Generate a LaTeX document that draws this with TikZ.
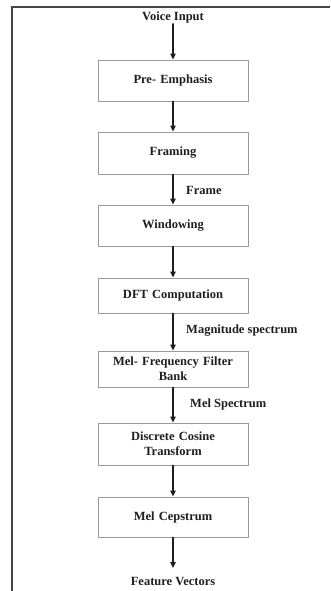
\documentclass[tikz,border=0pt]{standalone}
\usepackage{fontspec}
\setmainfont{Liberation Serif}
\usetikzlibrary{arrows.meta,positioning}
\definecolor{mfInk}{HTML}{1E1E1E}
\definecolor{mfFrame}{HTML}{454545}
\definecolor{mfEdge}{HTML}{9A9A9A}
\tikzset{
 mfcc/.style={font=\fontsize{12.5}{15}\selectfont\bfseries,text=mfInk,line cap=round},
 stage/.style={rectangle,draw=mfEdge,fill=white,line width=.9pt,minimum width=150pt,
   inner sep=2pt,align=center,text width=144pt},
 tag/.style={inner sep=1pt},
 flow/.style={draw=mfInk,line width=1.4pt,-{Triangle[length=6pt,width=5.5pt]}},
 frameline/.style={draw=mfFrame,line width=2.2pt,line cap=butt}
}

\begin{document}
\begin{tikzpicture}[mfcc,x=1pt,y=-1pt]
 \useasboundingbox (0,0) rectangle (330,591);
 \draw[frameline] (12,591)--(12,7)--(330,7);
 % input and output labels
 \node[tag] (vin) at (173,17) {Voice Input};
 \node[tag] (fvec) at (173,581) {Feature Vectors};
 % processing stages
 \node[stage,minimum height=41pt] (pre) at (173,80.5) {Pre- Emphasis};
 \node[stage,minimum height=42pt] (frm) at (173,153) {Framing};
 \node[stage,minimum height=41pt] (win) at (173,225.5) {Windowing};
 \node[stage,minimum height=35pt] (dft) at (173,295.5) {DFT Computation};
 \node[stage,minimum height=36pt] (mel) at (173,369) {Mel- Frequency Filter\\Bank};
 \node[stage,minimum height=42pt] (dct) at (173,444) {Discrete Cosine\\Transform};
 \node[stage,minimum height=40pt] (cep) at (173,517) {Mel Cepstrum};
 \coordinate (fin) at (173,568);
 % connectors
 \draw[flow] (vin.south) -- (pre.north);
 \draw[flow] (pre) -- (frm);
 \draw[flow] (frm) -- (win);
 \draw[flow] (win) -- (dft);
 \draw[flow] (dft) -- (mel);
 \draw[flow] (mel) -- (dct);
 \draw[flow] (dct) -- (cep);
 \draw[flow] (cep.south) -- (fin);
 % edge labels
 \node[tag,anchor=west] (lfrm) at (185,190) {Frame};
 \node[tag,anchor=west] (lmag) at (185,331) {Magnitude spectrum};
 \node[tag,anchor=west] (lmel) at (189,404) {Mel Spectrum};
\end{tikzpicture}
\end{document}
